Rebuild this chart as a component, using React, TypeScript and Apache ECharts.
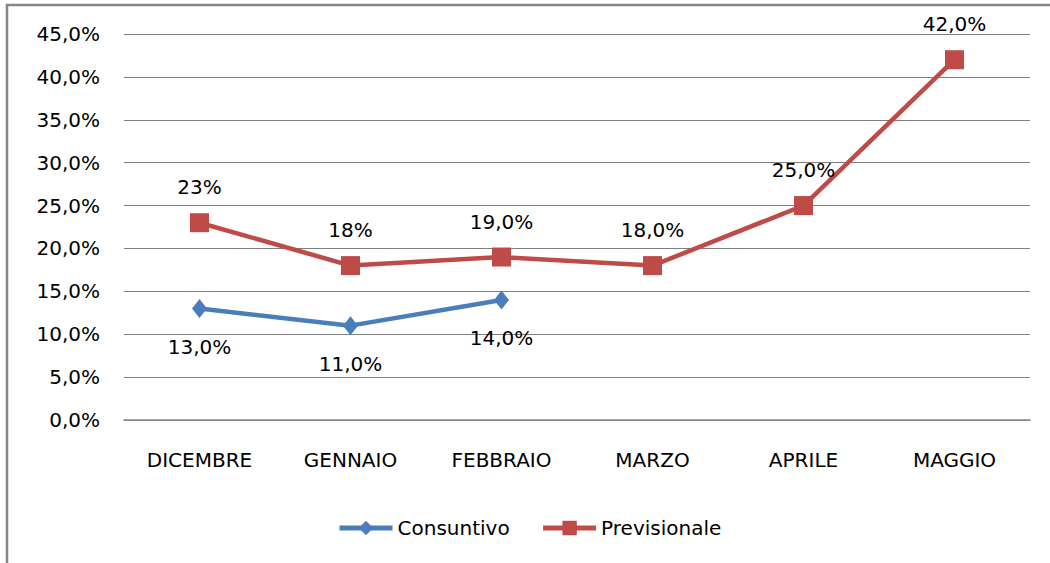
import React, { useEffect, useRef } from "react";
import * as echarts from "echarts";

const categories = ["DICEMBRE", "GENNAIO", "FEBBRAIO", "MARZO", "APRILE", "MAGGIO"];
const consuntivo = [13, 11, 14];
const consuntivoLabels = ["13,0%", "11,0%", "14,0%"];
const previsionale = [23, 18, 19, 18, 25, 42];
const previsionaleLabels = ["23%", "18%", "19,0%", "18,0%", "25,0%", "42,0%"];
const yTicks = { min: 0, max: 45, interval: 5 };

const FONT = "DejaVu Sans";

export default function App() {
  const ref = useRef<HTMLDivElement>(null);
  useEffect(() => {
    document.body.style.margin = "0";
    const chart = echarts.init(ref.current!, null, { renderer: "svg" });
    chart.setOption({
      animation: false,
      backgroundColor: "#ffffff",
      textStyle: { fontFamily: FONT },
      graphic: [
        {
          type: "rect",
          shape: { x: 7, y: 5, width: 1050, height: 570 },
          style: { fill: "none", stroke: "#868686", lineWidth: 2.5 },
          silent: true,
        },
      ],
      grid: { left: 124, right: 20, top: 34, bottom: 143, containLabel: false },
      legend: {
        bottom: 20,
        left: 332,
        itemWidth: 53,
        itemHeight: 18,
        itemGap: 31,
        lineStyle: { width: 5 },
        textStyle: { fontFamily: FONT, fontSize: 20, color: "#000" },
        data: ["Consuntivo", "Previsionale"],
      },
      xAxis: {
        type: "category",
        data: categories,
        boundaryGap: true,
        axisLine: { show: true, lineStyle: { color: "#868686", width: 1.5 } },
        axisTick: { show: false },
        axisLabel: { fontFamily: FONT, fontSize: 20, color: "#000", margin: 30, interval: 0 },
      },
      yAxis: {
        type: "value",
        min: yTicks.min,
        max: yTicks.max,
        interval: yTicks.interval,
        axisLine: { show: false },
        axisTick: { show: false },
        splitLine: { lineStyle: { color: "#7f7f7f", width: 1 } },
        axisLabel: {
          fontFamily: FONT,
          fontSize: 20,
          color: "#000",
          margin: 24,
          formatter: (v: number) => v.toFixed(1).replace(".", ",") + "%",
        },
      },
      series: [
        {
          name: "Consuntivo",
          type: "line",
          data: consuntivo,
          symbol: "diamond",
          symbolSize: [15, 19],
          itemStyle: { color: "#4A7EBB" },
          lineStyle: { color: "#4A7EBB", width: 4.5 },
          label: {
            show: true,
            position: "bottom",
            distance: 19,
            fontFamily: FONT,
            fontSize: 20,
            color: "#000",
            formatter: (p: any) => consuntivoLabels[p.dataIndex],
          },
        },
        {
          name: "Previsionale",
          type: "line",
          data: previsionale,
          symbol: "rect",
          symbolSize: 19,
          itemStyle: { color: "#BE4B48" },
          lineStyle: { color: "#BE4B48", width: 4.5 },
          label: {
            show: true,
            position: "top",
            distance: 16,
            fontFamily: FONT,
            fontSize: 20,
            color: "#000",
            formatter: (p: any) => previsionaleLabels[p.dataIndex],
          },
        },
      ],
    });
    return () => chart.dispose();
  }, []);
  return <div ref={ref} style={{ width: 1050, height: 563 }} />;
}
